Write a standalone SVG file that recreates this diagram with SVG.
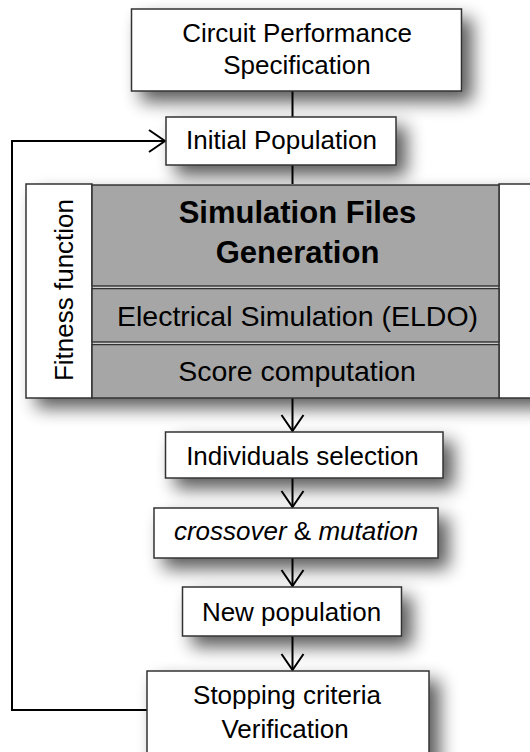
<svg xmlns="http://www.w3.org/2000/svg" width="530" height="752" viewBox="0 0 530 752">
  <defs>
    <filter id="shadow" x="-25%" y="-40%" width="160%" height="200%">
      <feGaussianBlur in="SourceAlpha" stdDeviation="9"/>
      <feOffset dx="10" dy="10" result="b"/>
      <feComponentTransfer><feFuncA type="linear" slope="0.65"/></feComponentTransfer>
      <feMerge><feMergeNode/><feMergeNode in="SourceGraphic"/></feMerge>
    </filter>
    <marker id="chev" markerUnits="userSpaceOnUse" markerWidth="22" markerHeight="26" viewBox="0 0 22 26" refX="17" refY="13" orient="auto">
      <path d="M1,2 L17,13 L1,24" fill="none" stroke="#000" stroke-width="2"/>
    </marker>
  </defs>
  <style>
    .box { fill: #fff; stroke: #333; stroke-width: 1.5; }
    .gray { fill: #a6a6a6; stroke: #333; stroke-width: 1.5; }
    .t { font-family: "Liberation Sans", Arial, sans-serif; font-size: 26px; fill: #000; text-anchor: middle; }
    .b { font-weight: bold; font-size: 31px; }
    .m { font-size: 28.5px; }
    .conn { fill: none; stroke: #000; stroke-width: 2; }
  </style>
  <rect width="530" height="752" fill="#fff"/>

  <g id="connectors">
    <line class="conn" x1="292.5" y1="91" x2="292.5" y2="117"/>
    <line class="conn" x1="292.5" y1="165" x2="292.5" y2="398"/>
    <line class="conn" x1="292.5" y1="398" x2="292.5" y2="431" marker-end="url(#chev)"/>
    <line class="conn" x1="292.5" y1="478" x2="292.5" y2="507" marker-end="url(#chev)"/>
    <line class="conn" x1="292.5" y1="558" x2="292.5" y2="586" marker-end="url(#chev)"/>
    <line class="conn" x1="292.5" y1="636" x2="292.5" y2="670" marker-end="url(#chev)"/>
    <polyline class="conn" points="147,710 12,710 12,141 165,141" marker-end="url(#chev)"/>
  </g>

  <g id="spec">
    <rect class="box" x="131.5" y="9" width="330" height="82" filter="url(#shadow)"/>
    <text class="t" x="297" y="42">Circuit Performance</text>
    <text class="t" x="297" y="74">Specification</text>
  </g>

  <g id="initial">
    <rect class="box" x="166" y="117" width="230" height="48" filter="url(#shadow)"/>
    <text class="t" x="281.5" y="149">Initial Population</text>
  </g>

  <g id="fitness">
    <rect x="26" y="184" width="520" height="214" fill="#fff" filter="url(#shadow)"/>
    <rect class="box" x="26" y="184" width="66" height="214"/>
    <text class="t" font-size="27" transform="translate(72.5,290) rotate(-90)">Fitness function</text>
    <rect class="box" x="499" y="184" width="45" height="214"/>
    <g id="simfiles">
      <rect class="gray" x="92" y="185" width="407" height="101"/>
      <text class="t b" x="297.5" y="223">Simulation Files</text>
      <text class="t b" x="297.5" y="263">Generation</text>
    </g>
    <g id="eldo">
      <rect class="gray" x="92" y="288.5" width="407" height="53.5"/>
      <text class="t m" x="297.5" y="326">Electrical Simulation (ELDO)</text>
    </g>
    <g id="score">
      <rect class="gray" x="92" y="344.5" width="407" height="53.5"/>
      <text class="t m" x="297" y="381">Score computation</text>
    </g>
  </g>

  <g id="selection">
    <rect class="box" x="165.5" y="432" width="277.5" height="46" filter="url(#shadow)"/>
    <text class="t" x="302.5" y="465">Individuals selection</text>
  </g>

  <g id="crossover">
    <rect class="box" x="154" y="508" width="284" height="50" filter="url(#shadow)"/>
    <text class="t" x="296" y="540"><tspan font-style="italic">crossover</tspan> &amp; <tspan font-style="italic">mutation</tspan></text>
  </g>

  <g id="newpop">
    <rect class="box" x="182.5" y="587" width="219" height="49" filter="url(#shadow)"/>
    <text class="t" x="291.5" y="620.5">New population</text>
  </g>

  <g id="stopping">
    <rect class="box" x="147" y="671" width="282" height="95" filter="url(#shadow)"/>
    <text class="t" x="287" y="704">Stopping criteria</text>
    <text class="t" x="285" y="738">Verification</text>
  </g>
</svg>
